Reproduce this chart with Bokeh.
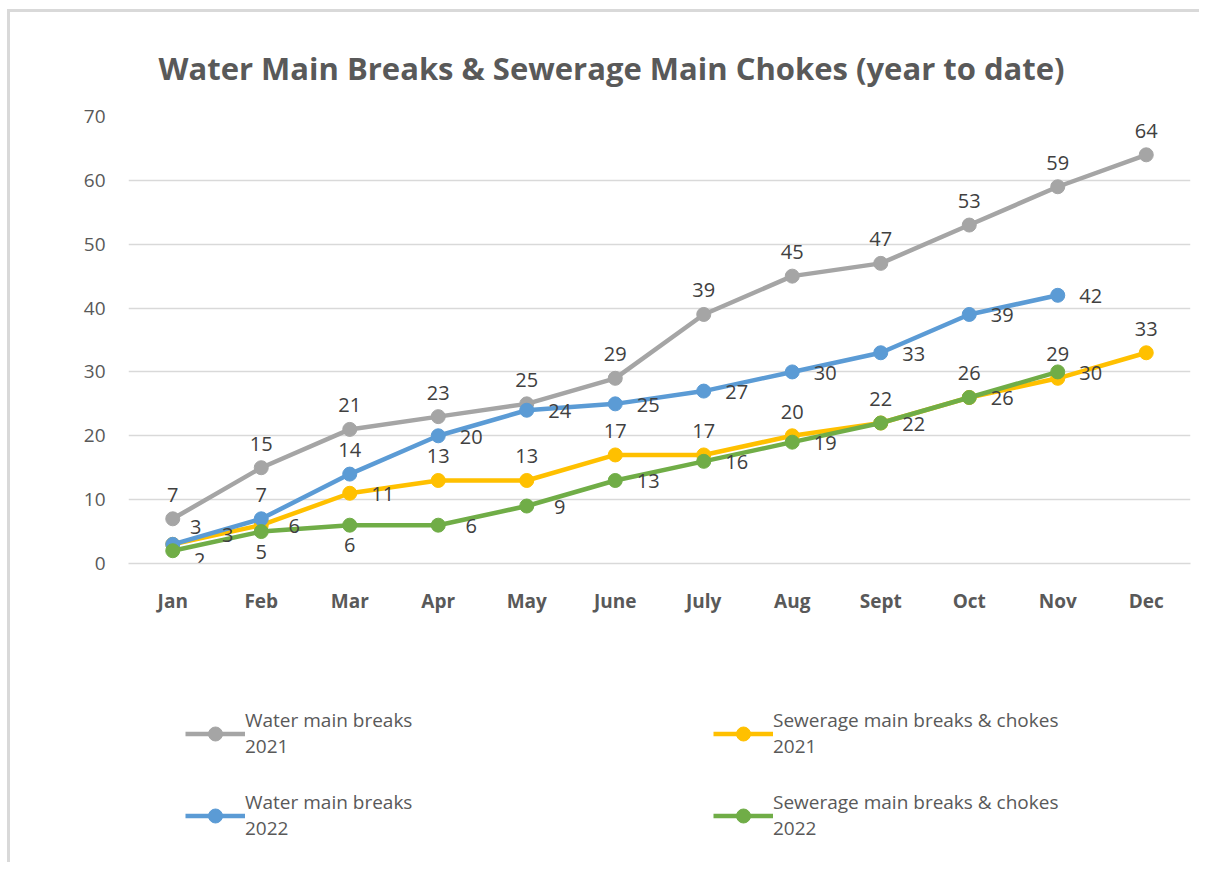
from bokeh.plotting import figure
from bokeh.layouts import column
from bokeh.models import ColumnDataSource, Range1d, FixedTicker, Legend, LegendItem
from bokeh.core.properties import value
from bokeh.embed import file_html
from bokeh.resources import INLINE

months = ["Jan", "Feb", "Mar", "Apr", "May", "June", "July", "Aug", "Sept", "Oct", "Nov", "Dec"]
water_2021 = [7, 15, 21, 23, 25, 29, 39, 45, 47, 53, 59, 64]
sewer_2021 = [3, 6, 11, 13, 13, 17, 17, 20, 22, 26, 29, 33]
water_2022 = [3, 7, 14, 20, 24, 25, 27, 30, 33, 39, 42]
sewer_2022 = [2, 5, 6, 6, 9, 13, 16, 19, 22, 26, 30]
y_ticks = [0, 10, 20, 30, 40, 50, 60, 70]

# label placement codes (style, not data)
place_w21 = ["above"] * 12
place_s21 = ["jan2", "right", "right"] + ["above"] * 9
place_w22 = ["jan1", "above", "above"] + ["right"] * 8
place_s22 = ["jan3", "below", "below"] + ["right"] * 8

OFFS = {"above": (0, -24), "right": (33, 1), "below": (0, 20),
        "jan1": (23, -17), "jan2": (55, -9), "jan3": (27, 9)}

FONT = "Open Sans"
TXT = "#595959"
X0, Y0 = 10, 12  # where the content starts, after the grey border

p = figure(width=1199 - X0, height=616 - Y0, x_range=months, y_range=Range1d(0, 70),
           output_backend="svg", toolbar_location=None,
           min_border_left=128 - X0, min_border_right=9, min_border_top=116 - Y0,
           min_border_bottom=47)
p.outline_line_color = None
p.border_fill_color = "white"
p.background_fill_color = "white"

p.title.text = "Water Main Breaks & Sewerage Main Chokes (year to date)"
p.title.text_font = FONT
p.title.text_font_size = "31px"
p.title.text_font_style = "bold"
p.title.text_color = TXT
p.title.align = "left"
p.title.offset = 30
p.title.standoff = 56

p.xgrid.grid_line_color = None
p.ygrid.grid_line_color = "#d9d9d9"
p.ygrid.grid_line_width = 1.5
p.yaxis.ticker = FixedTicker(ticks=y_ticks)
p.yaxis.axis_line_color = None
p.yaxis.major_tick_line_color = None
p.yaxis.minor_tick_line_color = None
p.yaxis.major_label_standoff = 17
p.yaxis.major_label_text_font = FONT
p.yaxis.major_label_text_font_size = "19px"
p.yaxis.major_label_text_color = TXT

p.xaxis.axis_line_color = "#d9d9d9"
p.xaxis.axis_line_width = 1.5
p.xaxis.major_tick_line_color = None
p.xaxis.minor_tick_line_color = None
p.xaxis.major_label_standoff = 18
p.xaxis.major_label_text_font = FONT
p.xaxis.major_label_text_font_size = "19px"
p.xaxis.major_label_text_font_style = "bold"
p.xaxis.major_label_text_color = TXT
p.x_range.range_padding = 0

series = [
    ("Water main breaks\n2021", water_2021, "#A5A5A5", place_w21),
    ("Sewerage main breaks & chokes\n2021", sewer_2021, "#FFC000", place_s21),
    ("Water main breaks\n2022", water_2022, "#5B9BD5", place_w22),
    ("Sewerage main breaks & chokes\n2022", sewer_2022, "#70AD47", place_s22),
]

srcs = []
for name, vals, col, place in series:
    n = len(vals)
    src = ColumnDataSource(dict(x=months[:n], y=vals, t=[str(v) for v in vals],
                                dx=[OFFS[k][0] for k in place[:n]],
                                dy=[OFFS[k][1] for k in place[:n]]))
    p.line("x", "y", source=src, line_color=col, line_width=4.5)
    p.scatter("x", "y", source=src, size=14, fill_color=col, line_color=col)
    srcs.append(src)

for src in srcs:
    p.text("x", "y", text="t", source=src, x_offset="dx", y_offset="dy",
           text_font=value(FONT), text_font_size="20px", text_color="#404040",
           text_align="center", text_baseline="middle")

# legend panel below the chart: same series, drawn into a view whose y range shows none of them
p2 = figure(width=1199 - X0, height=862 - 616, x_range=months, y_range=Range1d(-200, -100),
            output_backend="svg", toolbar_location=None, x_axis_type=None, y_axis_type=None,
            min_border=0)
p2.outline_line_color = None
p2.xgrid.grid_line_color = None
p2.ygrid.grid_line_color = None

leg_items = []
for (name, vals, col, place), src in zip(series, srcs):
    lr = p2.line("x", "y", source=src, line_color=col, line_width=4.5)
    sr = p2.scatter("x", "y", source=src, size=14, fill_color=col, line_color=col)
    leg_items.append(LegendItem(label=name, renderers=[lr, sr]))

legend = Legend(items=leg_items, ncols=2, location=(57, 21), orientation="horizontal")
legend.label_text_font = FONT
legend.label_text_font_size = "19px"
legend.label_text_color = TXT
legend.glyph_width = 60
legend.glyph_height = 35
legend.label_width = 438
legend.label_standoff = 0
legend.spacing = 30
legend.padding = 0
legend.margin = 0
legend.border_line_color = None
legend.background_fill_alpha = 0
legend.label_text_line_height = 1.37
p2.add_layout(legend, "center")

layout = column(p, p2, spacing=0,
                styles={"border-top": "3px solid #d9d9d9", "border-left": "3px solid #d9d9d9",
                        "margin-left": "7px", "margin-top": "9px"})

open("out.html", "w").write(file_html(layout, INLINE))
